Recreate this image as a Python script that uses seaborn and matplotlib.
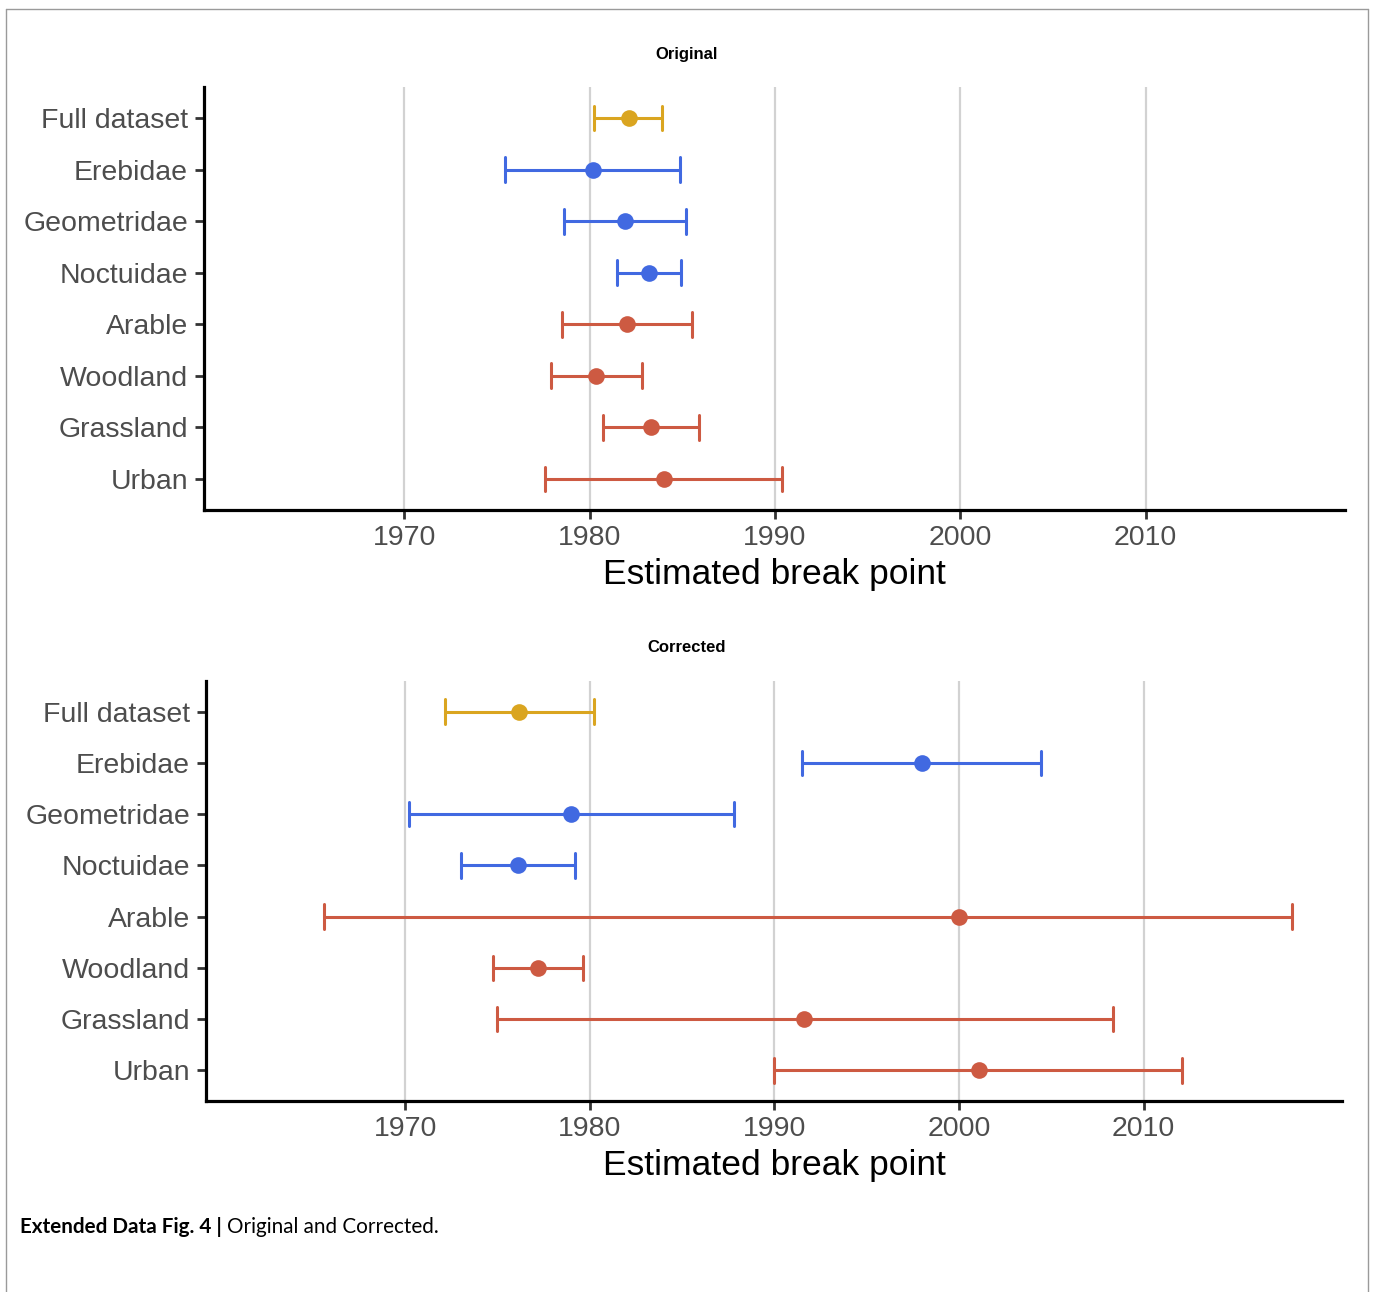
import matplotlib
matplotlib.use("Agg")
import matplotlib.pyplot as plt
from matplotlib.lines import Line2D
import pandas as pd
import seaborn as sns

# Categories (top to bottom) and the colour group each belongs to
categories = ["Full dataset", "Erebidae", "Geometridae", "Noctuidae",
              "Arable", "Woodland", "Grassland", "Urban"]
groups = ["all", "family", "family", "family",
          "habitat", "habitat", "habitat", "habitat"]
group_order = ["all", "family", "habitat"]
group_colors = {"all": "#DAA520", "family": "#4169E1", "habitat": "#CD5A42"}

# Estimated break points with their lower / upper interval bounds
original_est = [1982.1, 1980.2, 1981.9, 1983.2, 1982.0, 1980.35, 1983.3, 1984.0]
original_low = [1980.25, 1975.45, 1978.6, 1981.5, 1978.5, 1977.9, 1980.75, 1977.6]
original_high = [1983.9, 1984.9, 1985.2, 1984.95, 1985.5, 1982.85, 1985.9, 1990.4]

corrected_est = [1976.15, 1998.0, 1979.0, 1976.1, 2000.0, 1977.2, 1991.6, 2001.1]
corrected_low = [1972.15, 1991.5, 1970.2, 1973.0, 1965.6, 1974.75, 1974.95, 1990.0]
corrected_high = [1980.2, 2004.45, 1987.8, 1979.2, 2018.05, 1979.65, 2008.35, 2012.1]

year_ticks = [1970, 1980, 1990, 2000, 2010]


def interval_table(low, est, high):
    """Long table: three rows per category (low, estimate, high)."""
    rows = []
    for cat, grp, lo, mid, hi in zip(categories, groups, low, est, high):
        for v in (lo, mid, hi):
            rows.append({"category": cat, "group": grp, "year": v})
    return pd.DataFrame(rows)


sns.set_theme(style="white")
plt.rcParams["font.family"] = ["Liberation Sans", "DejaVu Sans"]

W, H = 1375, 1292
fig = plt.figure(figsize=(W / 100, H / 100), dpi=100)


def draw_panel(rect, title, title_y, df):
    ax = fig.add_axes(rect)
    sns.pointplot(
        data=df, x="year", y="category", hue="group",
        order=categories, hue_order=group_order, palette=group_colors,
        estimator="median", errorbar=lambda v: (v.min(), v.max()),
        capsize=0.48, dodge=False, linestyle="none", marker="o",
        markersize=12, markeredgewidth=0, linewidth=2.2,
        err_kws={"linewidth": 2.2}, legend=False, ax=ax,
    )
    ax.set_xlim(1959.2, 2020.75)
    ax.set_ylim(7.6, -0.6)
    ax.set_xticks(year_ticks)
    ax.set_xticklabels([str(y) for y in year_ticks])
    ax.grid(False)
    ax.xaxis.grid(True, color="#d2d2d2", linewidth=1.6)
    ax.set_axisbelow(True)
    for side in ("top", "right"):
        ax.spines[side].set_visible(False)
    for side in ("left", "bottom"):
        ax.spines[side].set_linewidth(2.3)
        ax.spines[side].set_color("black")
    ax.tick_params(axis="both", bottom=True, left=True, length=6.5, width=2,
                   color="#333333", labelcolor="#4d4d4d", labelsize=20.5)
    ax.tick_params(axis="y", pad=5)
    ax.tick_params(axis="x", pad=4)
    ax.set_ylabel("")
    ax.set_xlabel("Estimated break point", fontsize=25.5, color="black",
                  labelpad=5)
    fig.text(0.4996, title_y, title, ha="center", va="center",
             fontsize=12, fontweight="bold", color="black")
    return ax


draw_panel([204 / W, 1 - 510 / H, (1345 - 204) / W, (510 - 87) / H],
           "Original", 1 - 55 / H,
           interval_table(original_low, original_est, original_high))
draw_panel([206 / W, 1 - 1101 / H, (1342 - 206) / W, (1101 - 681) / H],
           "Corrected", 1 - 647 / H,
           interval_table(corrected_low, corrected_est, corrected_high))

# Frame around the figure (open at the bottom edge)
frame_kw = dict(color="#9a9a9a", linewidth=1.0, transform=fig.transFigure)
fx0, fx1, fy = 6 / W, 1368 / W, 1 - 9 / H
fig.add_artist(Line2D([fx0, fx0], [fy, 0], **frame_kw))
fig.add_artist(Line2D([fx0, fx1], [fy, fy], **frame_kw))
fig.add_artist(Line2D([fx1, fx1], [fy, 0], **frame_kw))

# Caption: bold label followed by regular text
cap_y = 1 - 1227 / H
bold = fig.text(20 / W, cap_y, "Extended Data Fig. 4 |", ha="left", va="center",
                fontsize=14.9, fontweight="bold", family=["Lato", "DejaVu Sans"],
                color="black")
fig.canvas.draw()
bb = bold.get_window_extent(fig.canvas.get_renderer())
fig.text((bb.x1 + 5) / W, cap_y, "Original and Corrected.", ha="left",
         va="center", fontsize=14.9, family=["Lato", "DejaVu Sans"],
         color="black")

fig.savefig("out.png", dpi=100)
